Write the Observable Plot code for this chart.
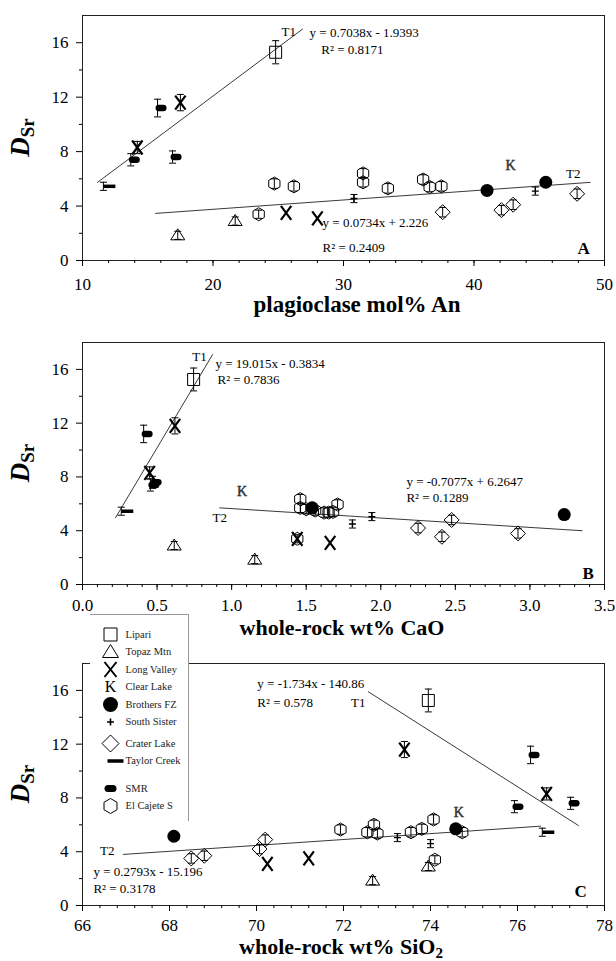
<!DOCTYPE html>
<html><head><meta charset="utf-8">
<script src="https://cdn.jsdelivr.net/npm/d3@7"></script>
<script src="https://cdn.jsdelivr.net/npm/@observablehq/plot@0.6"></script>
<style>
body{margin:0;background:#fff;}
#wrap{position:relative;width:616px;height:961px;overflow:hidden;background:#fff;}
.panel{position:absolute;left:0;}
#legend{position:absolute;left:90px;top:614px;width:98px;height:206px;background:#fff;border-top:1px solid #999;border-right:1px solid #999;z-index:5;}
svg text{font-family:"Liberation Serif","Times New Roman",serif;}
</style></head><body><div id="wrap"><div id="legend"></div></div>
<script>
// ---------- DATA ----------
const seriesNames = ["Lipari","Topaz Mtn","Long Valley","Clear Lake","Brothers FZ","South Sister","Crater Lake","Taylor Creek","SMR","El Cajete S"];

// point order shared by all three panels
const ptSeries = ["Lipari","Topaz Mtn","Topaz Mtn","Long Valley","Long Valley","Long Valley","Long Valley","Clear Lake","Brothers FZ","Brothers FZ","South Sister","South Sister","Crater Lake","Crater Lake","Crater Lake","Crater Lake","Taylor Creek","SMR","SMR","SMR","El Cajete S","El Cajete S","El Cajete S","El Cajete S","El Cajete S","El Cajete S","El Cajete S","El Cajete S","El Cajete S"];
const ptErr = [0.85,0.3,0.3,0.6,0.45,0,0,0,0,0,0.3,0.3,0.35,0.35,0.35,0.35,0.3,0.65,0.45,0.45,0.3,0.35,0.35,0.35,0.35,0.35,0.35,0.35,0.35];

// Panel A: plagioclase mol% An
const aX = [24.8,17.3,21.7,17.5,14.2,25.6,28.0,42.8,41.0,45.5,30.8,44.7,37.6,42.1,43.0,47.9,11.6,15.75,13.7,16.9,23.5,24.7,26.2,31.5,31.5,33.4,36.1,36.6,37.5];
const aY = [15.3,1.85,2.9,11.6,8.3,3.5,3.1,7.0,5.15,5.75,4.55,5.1,3.55,3.7,4.1,4.9,5.45,11.2,7.4,7.6,3.4,5.65,5.45,6.4,5.75,5.3,5.95,5.4,5.45];
// Panel B: whole-rock wt% CaO
const bX = [0.745,0.615,1.155,0.62,0.45,1.44,1.66,1.07,1.54,3.23,1.81,1.94,2.25,2.41,2.475,2.92,0.26,0.41,0.455,0.47,1.44,1.46,1.46,1.56,1.62,1.65,1.68,1.71,1.50];
const bY = [15.25,2.9,1.85,11.8,8.3,3.4,3.1,6.9,5.7,5.2,4.5,5.05,4.2,3.55,4.8,3.8,5.45,11.2,7.4,7.6,3.4,6.35,5.7,5.5,5.35,5.35,5.4,5.95,5.6];
// Panel C: whole-rock wt% SiO2
const cX = [73.95,72.67,73.95,73.4,76.67,70.25,71.2,74.65,74.58,68.1,73.24,74.0,68.5,68.8,70.07,70.2,76.57,76.3,75.93,77.22,74.1,71.93,72.55,72.7,72.78,73.55,73.8,74.07,74.73];
const cY = [15.25,1.85,2.9,11.6,8.3,3.1,3.5,6.9,5.7,5.15,5.05,4.6,3.5,3.7,4.2,4.9,5.45,11.2,7.35,7.6,3.4,5.65,5.45,6.0,5.35,5.45,5.7,6.4,5.45];

// trend lines (end points)
const aT1 = {x:[11.15,26.86], y:[5.74,17.0]};
const aT2 = {x:[15.6,48.9], y:[3.46,5.74]};
const bT1 = {x:[0.221,0.872], y:[4.96,17.1]};
const bT2 = {x:[0.92,3.35], y:[5.7,4.0]};
const cT1 = {x:[72.57,77.4], y:[15.9,5.95]};
const cT2 = {x:[66.94,76.53], y:[3.8,5.9]};

// regression texts
const eqA = ["y = 0.7038x - 1.9393","R² = 0.8171","y = 0.0734x + 2.226","R² = 0.2409"];
const eqB = ["y = 19.015x - 0.3834","R² = 0.7836","y = -0.7077x + 6.2647","R² = 0.1289"];
const eqC = ["y = -1.734x - 140.86","R² = 0.578","y = 0.2793x - 15.196","R² = 0.3178"];

const yTicks = [0,4,8,12,16];
const aTicks = [10,20,30,40,50];
const bTicks = [0,0.5,1,1.5,2,2.5,3,3.5];
const cTicks = [66,68,70,72,74,76,78];

// ---------- SYMBOLS ----------
const sq = h => ({draw(c){c.rect(-h,-h,2*h,2*h);}});
const tri = (w,t,b) => ({draw(c){c.moveTo(0,-t);c.lineTo(w,b);c.lineTo(-w,b);c.closePath();}});
const xmark = (w,h) => ({draw(c){c.moveTo(-w,-h);c.lineTo(w,h);c.moveTo(w,-h);c.lineTo(-w,h);}});
const circ = r => ({draw(c){c.moveTo(r,0);c.arc(0,0,r,0,2*Math.PI);}});
const plus = a => ({draw(c){c.moveTo(-a,0);c.lineTo(a,0);c.moveTo(0,-a);c.lineTo(0,a);}});
const diamond = a => ({draw(c){c.moveTo(0,-a);c.lineTo(a,0);c.lineTo(0,a);c.lineTo(-a,0);c.closePath();}});
const dash = (x0,x1,h) => ({draw(c){c.rect(x0,-h/2,x1-x0,h);}});
const pill = (x0,x1,h) => ({draw(c){const r=h/2;c.moveTo(x0+r,-r);c.lineTo(x1-r,-r);c.arc(x1-r,0,r,-Math.PI/2,Math.PI/2);c.lineTo(x0+r,r);c.arc(x0+r,0,r,Math.PI/2,3*Math.PI/2);c.closePath();}});
const hex = r => ({draw(c){for(let i=0;i<6;i++){const a=(-90+60*i)*Math.PI/180;const px=r*Math.cos(a),py=r*Math.sin(a);i?c.lineTo(px,py):c.moveTo(px,py);}c.closePath();}});
const cap = w => ({draw(c){c.moveTo(-w,0);c.lineTo(w,0);}});

const plotStyle = {
  "Lipari": {symbol: sq(6), fill:"none", stroke:"#000", strokeWidth:1},
  "Topaz Mtn": {symbol: tri(7,6.5,4.5), fill:"none", stroke:"#000", strokeWidth:1},
  "Long Valley": {symbol: xmark(5.2,7), fill:"none", stroke:"#000", strokeWidth:2.2},
  "Brothers FZ": {symbol: circ(6.5), fill:"#000", stroke:"none"},
  "South Sister": {symbol: plus(3.5), fill:"none", stroke:"#000", strokeWidth:1.4},
  "Crater Lake": {symbol: diamond(7.5), fill:"none", stroke:"#000", strokeWidth:1},
  "Taylor Creek": {symbol: dash(0,12,3.5), fill:"#000", stroke:"none"},
  "SMR": {symbol: pill(-2,9,6.5), fill:"#000", stroke:"none"},
  "El Cajete S": {symbol: hex(6.5), fill:"none", stroke:"#000", strokeWidth:1}
};
const legendStyle = {
  "Lipari": {symbol: sq(6.5), fill:"none", stroke:"#000", strokeWidth:1},
  "Topaz Mtn": {symbol: tri(8,7.5,5.5), fill:"none", stroke:"#000", strokeWidth:1},
  "Long Valley": {symbol: xmark(6,7.5), fill:"none", stroke:"#000", strokeWidth:2},
  "Brothers FZ": {symbol: circ(7.5), fill:"#000", stroke:"none"},
  "South Sister": {symbol: plus(3.5), fill:"none", stroke:"#000", strokeWidth:1.6},
  "Crater Lake": {symbol: diamond(8.5), fill:"none", stroke:"#000", strokeWidth:1},
  "Taylor Creek": {symbol: dash(-3,13,3.5), fill:"#000", stroke:"none"},
  "SMR": {symbol: pill(-6,6,7), fill:"#000", stroke:"none"},
  "El Cajete S": {symbol: hex(7.5), fill:"none", stroke:"#000", strokeWidth:1}
};

const FONT = "Liberation Serif, Times New Roman, serif";

function buildPanel(cfg){
  const rows = ptSeries.map((s,i)=>({s, x:cfg.xs[i], y:cfg.ys[i], e:ptErr[i]}));
  const errRows = rows.filter(d=>d.e>0);
  const trend = t => t.x.map((v,i)=>({x:v, y:t.y[i]}));
  const marks = [
    Plot.frame({stroke:"#222"}),
    Plot.axisX({ticks: cfg.xTicks, tickSize:6, tickPadding:cfg.xPad, tickFormat: cfg.xFmt, label:null, fontSize:17, fontFamily:FONT}),
    Plot.axisX({ticks: cfg.xMinor, tickSize:3, tickFormat: ()=>"", label:null}),
    Plot.axisY({ticks: yTicks, tickSize:6, tickPadding:8, label:null, fontSize:17, fontFamily:FONT}),
    Plot.axisY({ticks: [2,6,10,14], tickSize:3, tickFormat: ()=>"", label:null}),
    Plot.line(trend(cfg.t1), {x:"x", y:"y", stroke:"#222", strokeWidth:0.9}),
    Plot.line(trend(cfg.t2), {x:"x", y:"y", stroke:"#222", strokeWidth:0.9})
  ];
  for (const name of seriesNames) {
    const sub = rows.filter(d=>d.s===name);
    if (name === "Clear Lake") {
      marks.push(Plot.text(sub, {x:"x", y:"y", text:()=>"K", fontSize:14, fontFamily:"DejaVu Sans, sans-serif", fill:"#333", stroke:"#000", strokeWidth:0.4}));
    } else {
      marks.push(Plot.dot(sub, {x:"x", y:"y", ...plotStyle[name]}));
    }
  }
  marks.push(
    Plot.ruleX(errRows, {x:"x", y1:d=>d.y-d.e, y2:d=>d.y+d.e, stroke:"#000", strokeWidth:1}),
    Plot.dot(errRows, {x:"x", y:d=>d.y+d.e, symbol:cap(3.5), stroke:"#000", strokeWidth:1, fill:"none"}),
    Plot.dot(errRows, {x:"x", y:d=>d.y-d.e, symbol:cap(3.5), stroke:"#000", strokeWidth:1, fill:"none"})
  );
  for (const n of cfg.notes) {
    marks.push(Plot.text([n.t], {x:()=>n.x, y:()=>n.y, text:d=>d, textAnchor:n.a||"start", fontSize:n.fs||13, fontWeight:n.w||"normal", fontFamily:FONT, fill:"#000"}));
  }
  const svg = Plot.plot({
    width:616, height:cfg.height, marginLeft:82, marginRight:12, marginTop:15, marginBottom:cfg.height-15-cfg.frameH,
    x:{domain:cfg.xDomain}, y:{domain:[0,18]},
    style:{fontFamily:FONT, fontSize:"17px", color:"#000", background:"transparent", overflow:"visible"},
    marks
  });
  const s = d3.select(svg);
  // y label D_Sr
  const yl = s.append("text").attr("transform", `translate(29,${15+cfg.frameH/2}) rotate(-90)`)
    .attr("text-anchor","middle").style("font-family",FONT).style("font-weight","bold").attr("fill","#000");
  yl.append("tspan").text("D").style("font-style","italic").style("font-size","27px");
  yl.append("tspan").text("Sr").style("font-size","19px").attr("dy",5);
  // x label
  const xl = s.append("text").attr("x",cfg.xlCx).attr("y",cfg.xlBase).attr("text-anchor","middle")
    .style("font-family",FONT).style("font-weight","bold").style("font-size",cfg.xlSize||"23px").attr("fill","#000");
  xl.append("tspan").text(cfg.xLabel);
  if (cfg.xSub) xl.append("tspan").text(cfg.xSub).style("font-size","15px").attr("dy",4);
  const div = document.createElement("div");
  div.className = "panel"; div.style.top = cfg.top + "px";
  div.appendChild(svg);
  document.getElementById("wrap").appendChild(div);
}

buildPanel({
  xs:aX, ys:aY, xDomain:[10,50], xTicks:aTicks, xMinor:d3.range(10,50.01,2), xFmt:d=>String(d), xPad:11,
  t1:aT1, t2:aT2, top:0, height:312, frameH:245, xLabel:"plagioclase mol% An", xlCx:357, xlBase:312,
  notes:[
    {t:"T1", x:25.8, y:16.8, a:"middle"},
    {t:eqA[0], x:27.4, y:16.7}, {t:eqA[1], x:28.3, y:15.45},
    {t:"T2", x:47.6, y:6.4, a:"middle"},
    {t:eqA[2], x:28.4, y:2.8}, {t:eqA[3], x:28.4, y:0.9},
    {t:"A", x:48.4, y:0.9, a:"middle", fs:17, w:"bold"}
  ]
});
buildPanel({
  xs:bX, ys:bY, xDomain:[0,3.5], xTicks:bTicks, xMinor:d3.range(0,3.501,0.1), xFmt:d3.format(".1f"), xPad:8,
  t1:bT1, t2:bT2, top:327, height:307, frameH:242, xLabel:"whole-rock wt% CaO", xlCx:342, xlBase:308, xlSize:"22px",
  notes:[
    {t:"T1", x:0.785, y:16.95, a:"middle"},
    {t:eqB[0], x:0.892, y:16.45}, {t:eqB[1], x:0.905, y:15.25},
    {t:"T2", x:0.92, y:4.96, a:"middle"},
    {t:eqB[2], x:2.172, y:7.63}, {t:eqB[3], x:2.172, y:6.44},
    {t:"B", x:3.39, y:0.81, a:"middle", fs:17, w:"bold"}
  ]
});
buildPanel({
  xs:cX, ys:cY, xDomain:[66,78], xTicks:cTicks, xMinor:d3.range(66,78.01,0.4), xFmt:d=>String(d), xPad:7,
  t1:cT1, t2:cT2, top:648, height:313, frameH:242, xLabel:"whole-rock wt% SiO", xSub:"2", xlCx:341, xlBase:306, xlSize:"22px",
  notes:[
    {t:eqC[0], x:70.02, y:16.5}, {t:eqC[1], x:70.02, y:15.1},
    {t:"T1", x:72.34, y:15.1, a:"middle"},
    {t:"T2", x:66.57, y:4.09, a:"middle"},
    {t:eqC[2], x:66.25, y:2.53}, {t:eqC[3], x:66.25, y:1.26},
    {t:"C", x:77.45, y:1.04, a:"middle", fs:17, w:"bold"}
  ]
});

// ---------- LEGEND ----------
(function(){
  const rowGap = {"Crater Lake":4, "SMR":10}; // extra spacing before these rows (layout)
  let yy = 19; const rows = [];
  seriesNames.forEach((n,i)=>{ if(i>0) yy += 17.5 + (rowGap[n]||0); rows.push({n, y:yy}); });
  const marks = [];
  for (const r of rows) {
    if (r.n === "Clear Lake") marks.push(Plot.text([r], {x:()=>20, y:"y", text:()=>"K", fontSize:16, fontFamily:"DejaVu Sans, sans-serif", fill:"#000"}));
    else marks.push(Plot.dot([r], {x:()=>20, y:"y", ...legendStyle[r.n]}));
  }
  marks.push(Plot.text(rows, {x:()=>35, y:"y", text:"n", textAnchor:"start", fontSize:10.5, fontFamily:FONT, fill:"#222"}));
  const svg = Plot.plot({width:98, height:206, margin:0,
    x:{domain:[0,98], range:[0,98], axis:null}, y:{domain:[0,206], range:[0,206], axis:null},
    style:{fontFamily:FONT, background:"transparent", overflow:"visible"}, marks});
  document.getElementById("legend").appendChild(svg);
})();
</script></body></html>
